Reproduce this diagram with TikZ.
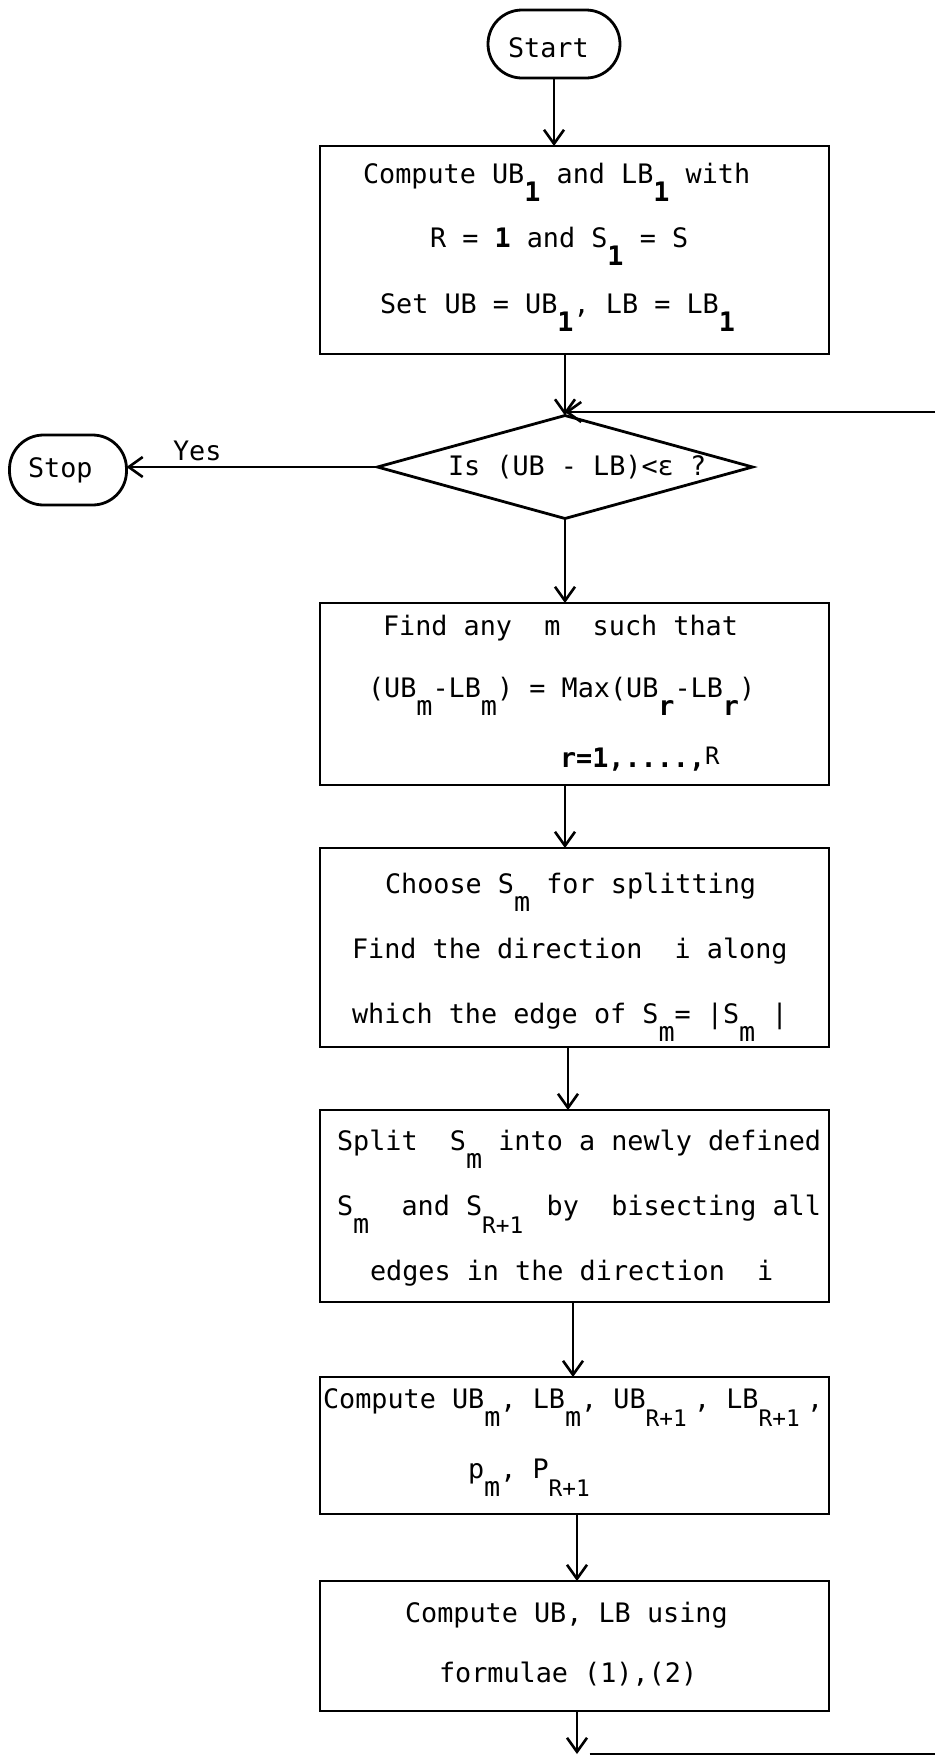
\documentclass[tikz,border=0pt]{standalone}
\usepackage{fontspec}
\setmonofont{DejaVu Sans Mono}
\usetikzlibrary{arrows.meta,shapes.geometric}
% width of one character cell of the typewriter face
\newlength\cw
\setlength\cw{16.13pt}
% subscripts set well below the line, as on the typewriter
\newcommand\lowsub[1]{\raisebox{-0.7em}{#1}}
\newcommand\widesub[1]{\makebox[3\cw][l]{\raisebox{-0.7em}{\fontsize{22.8}{26}\selectfont #1}}}
\begin{document}
\begin{tikzpicture}[x=1pt,y=-1pt,
  every node/.style={font=\ttfamily\fontsize{26.8}{32}\selectfont, inner sep=0pt, outer sep=0pt},
  line/.style={line width=2.6pt},
  arr/.style={line width=2.6pt, -{Straight Barb[length=14pt,width=20pt]}},
  box/.style={draw, line width=2.8pt, minimum width=509pt},
  oval/.style={draw, line width=2.8pt, rounded corners=34pt},
  txt/.style={anchor=base west}]
\useasboundingbox (0,0) rectangle (935,1757);

% terminals
\node[oval, minimum width=132pt, minimum height=68pt] (start) at (554,44) {};
\node[txt] (starttxt) at (508,57) {Start};
\node[oval, minimum width=117pt, minimum height=70pt] (stop) at (68,470) {};
\node[txt] (stoptxt) at (28,477) {Stop};

% step 1
\node[box, minimum height=208pt] (b1) at (574.5,250) {};
\node[txt] (b1a) at (363,183) {Compute UB\lowsub{\textbf{1}} and LB\lowsub{\textbf{1}} with};
\node[txt] (b1b) at (430,247) {R = \textbf{1} and S\lowsub{\textbf{1}} = S};
\node[txt] (b1c) at (380,313) {Set UB = UB\lowsub{\textbf{1}}, LB = LB\lowsub{\textbf{1}}};

% test
\node[draw, diamond, line width=2.8pt, minimum width=375pt, minimum height=103pt] (dia) at (565,467) {};
\node[txt] (diatxt) at (448,475) {Is (UB - LB)<ε ?};
\node[txt] (yes) at (173,460) {Yes};

% step 2
\node[box, minimum height=182pt] (b2) at (574.5,694) {};
\node[txt] (b2a) at (383,635) {Find any~~m~~such that};
\node[txt] (b2b) at (368,697) {(UB\lowsub{m}-LB\lowsub{m}) = Max(UB\lowsub{\textbf{r}}-LB\lowsub{\textbf{r}})};
\node[txt] (b2c) at (560,767) {\textbf{r=1,....,}\raisebox{3pt}{\fontsize{24}{28}\selectfont R}};

% step 3
\node[box, minimum height=199pt] (b3) at (574.5,947.5) {};
\node[txt] (b3a) at (385,893) {Choose S\lowsub{m} for splitting};
\node[txt] (b3b) at (352,958) {Find the direction~~i along};
\node[txt] (b3c) at (352,1023) {which the edge of S\lowsub{m}= |S\lowsub{m} |};

% step 4
\node[box, minimum height=192pt] (b4) at (574.5,1206) {};
\node[txt] (b4a) at (337,1150) {Split~~S\lowsub{m} into a newly defined};
\node[txt] (b4b) at (337,1215) {S\lowsub{m}~~and S\widesub{R+1} by~~bisecting all};
\node[txt] (b4c) at (370,1280) {edges in the direction~~i};

% step 5
\node[box, minimum height=137pt] (b5) at (574.5,1445.5) {};
\node[txt] (b5a) at (323,1408) {Compute UB\lowsub{m}, LB\lowsub{m}, UB\widesub{R+1}, LB\widesub{R+1},};
\node[txt] (b5b) at (468,1478) {p\lowsub{m}, P\widesub{R+1}};

% step 6
\node[box, minimum height=130pt] (b6) at (574.5,1646) {};
\node[txt] (b6a) at (405,1622) {Compute UB, LB using};
\node[txt] (b6b) at (439,1682) {formulae (1),(2)};

% loop ends
\coordinate (fbin) at (935,412);
\coordinate (fbout) at (935,1754);

% connectors
\draw[arr] (start.south) -- (start.south |- b1.north);
\draw[arr] (b1.south -| dia.north) -- (dia.north);
\draw[arr] (fbin) -- (fbin -| dia.north);
\draw[arr] (dia.west) -- (dia.west -| stop.east);
\draw[arr] (dia.south) -- (dia.south |- b2.north);
\draw[arr] ([xshift=-9.5pt]b2.south) -- ([xshift=-9.5pt]b3.north);
\draw[arr] ([xshift=-6.5pt]b3.south) -- ([xshift=-6.5pt]b4.north);
\draw[arr] ([xshift=-1.5pt]b4.south) -- ([xshift=-1.5pt]b5.north);
\draw[arr] ([xshift=2.5pt]b5.south) -- ([xshift=2.5pt]b6.north);
\draw[arr] ([xshift=2.5pt]b6.south) -- ([xshift=2.5pt]b6.south |- fbout);
\draw[line] ([xshift=15pt]b6.south |- fbout) -- (fbout);
\end{tikzpicture}
\end{document}
